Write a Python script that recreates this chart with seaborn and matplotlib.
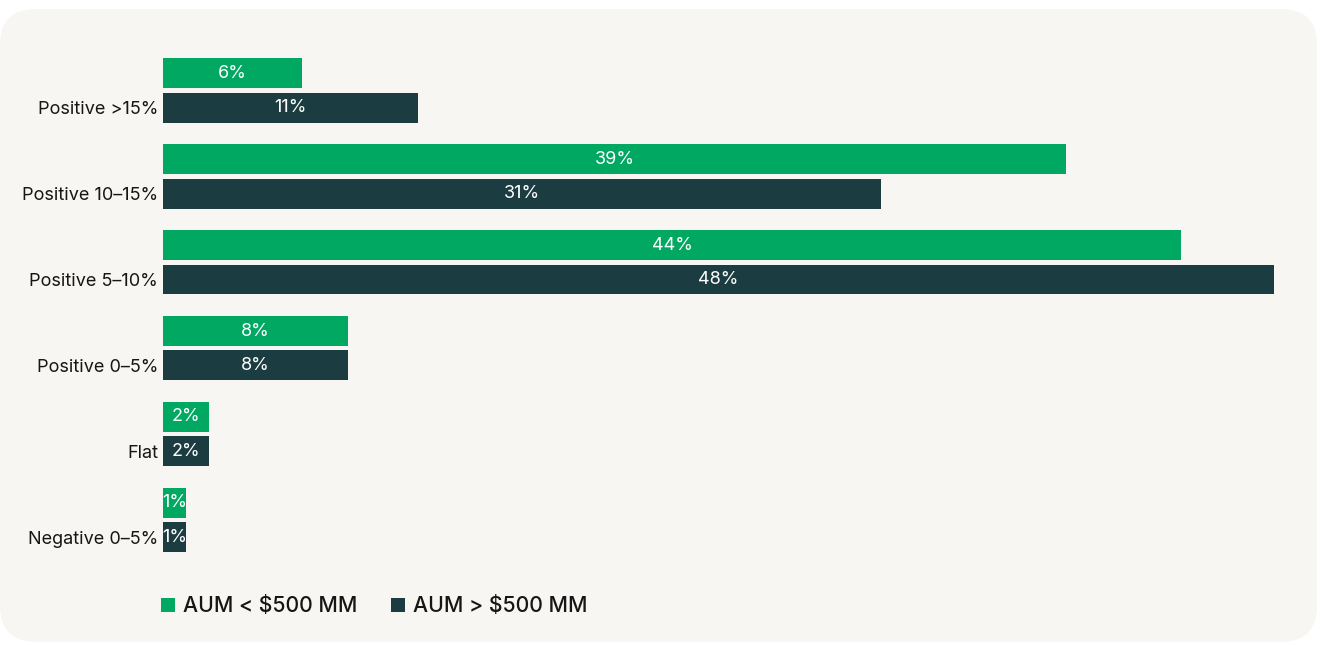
import matplotlib
matplotlib.use("Agg")
import matplotlib.pyplot as plt
from matplotlib.patches import FancyBboxPatch
import pandas as pd
import seaborn as sns

# Return buckets and the share of respondents in each, by firm size
categories = ["Positive >15%", "Positive 10–15%", "Positive 5–10%",
              "Positive 0–5%", "Flat", "Negative 0–5%"]
series_names = ["AUM < $500 MM", "AUM > $500 MM"]
small_aum = [6, 39, 44, 8, 2, 1]
large_aum = [11, 31, 48, 8, 2, 1]

GREEN = "#00a862"
DARK = "#1b3d41"
PANEL = "#f7f6f2"
TEXT = "#161616"

df = pd.DataFrame({
    "bucket": categories * 2,
    "group": [series_names[0]] * len(categories) + [series_names[1]] * len(categories),
    "share": small_aum + large_aum,
})

sns.set_theme(style="white")
plt.rcParams["font.family"] = ["Inter", "DejaVu Sans"]

fig = plt.figure(figsize=(13.2, 6.45), dpi=100, facecolor="white")

# rounded light panel behind the chart
panel = FancyBboxPatch((0.0, 0.005), 0.9977, 0.981,
                       boxstyle="round,pad=0,rounding_size=0.027",
                       transform=fig.transFigure, facecolor=PANEL,
                       edgecolor="none", zorder=-10, mutation_aspect=1320 / 645)
fig.patches.append(panel)

ax = fig.add_axes([0.1235, 0.1271, 0.8417, 0.7992])
ax.set_facecolor("none")
ax.set_zorder(1)

sns.barplot(data=df, y="bucket", x="share", hue="group", orient="h",
            order=categories, hue_order=series_names,
            palette=[GREEN, DARK], width=0.8, gap=0.13,
            linewidth=0, saturation=1, ax=ax)

ax.set_xlim(0, 48)
ax.set_ylim(len(categories) - 0.5, -0.5)
ax.set_xlabel("")
ax.set_ylabel("")
ax.set_xticks([])
# category names sit beside the second bar of each pair
ax.set_yticks([i + 0.2 for i in range(len(categories))], labels=categories)
for s in ax.spines.values():
    s.set_visible(False)
ax.tick_params(axis="y", length=0, pad=3.5, labelsize=13, labelcolor=TEXT)

# value labels inside the bars, clipped to each bar
for cont in ax.containers:
    vals = [b.get_width() for b in cont]
    texts = ax.bar_label(cont, labels=[f"{v:g}%" for v in vals],
                         label_type="center", color="white", fontsize=13)
    for t, bar in zip(texts, cont):
        t.set_clip_path(bar)

sns.move_legend(ax, loc="center left", bbox_to_anchor=(0.1222, 0.06),
                bbox_transform=fig.transFigure, ncol=2, frameon=False,
                title=None, fontsize=15.3, handlelength=0.66, handleheight=0.66,
                handletextpad=0.35, columnspacing=1.6, borderpad=0,
                borderaxespad=0)
for t in ax.get_legend().get_texts():
    t.set_color(TEXT)
    t.set_fontweight("medium")

fig.savefig("out.png", dpi=100, facecolor="white")
